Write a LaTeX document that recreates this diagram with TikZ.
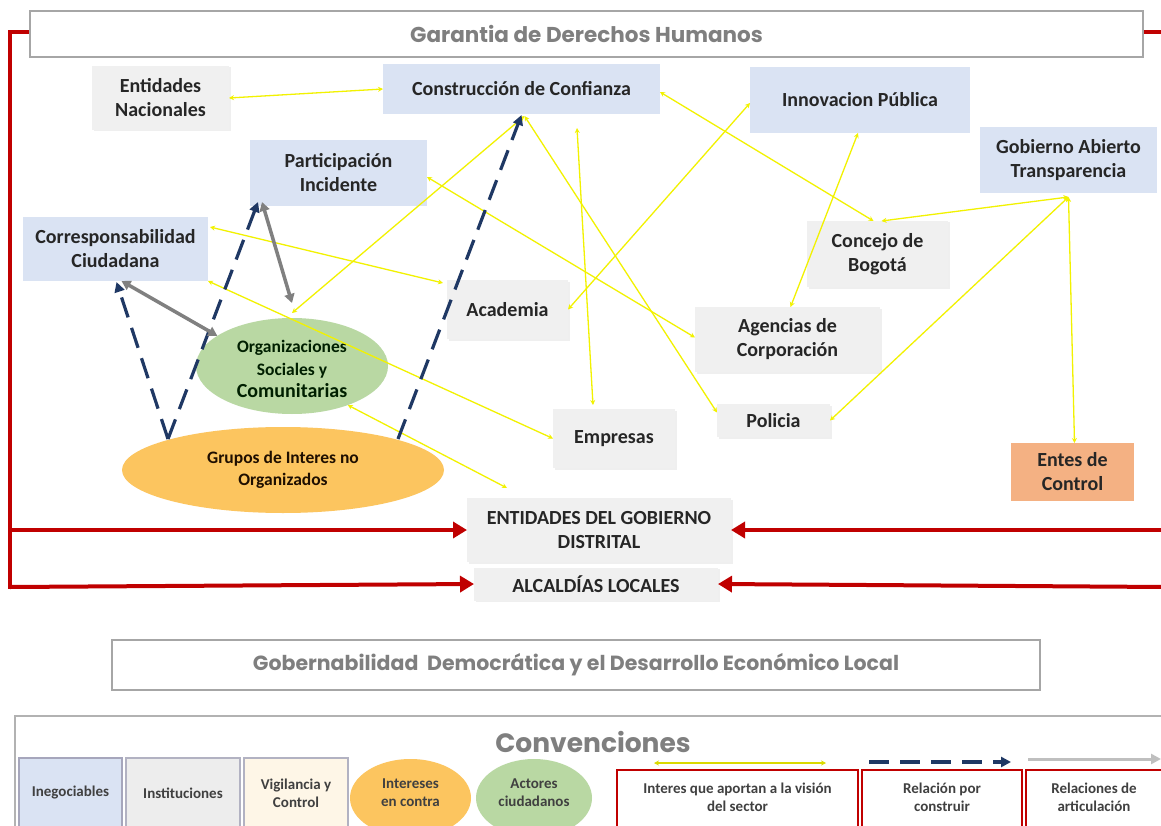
\documentclass[tikz,border=0pt]{standalone}
\usepackage{fontspec}
\setmainfont{Carlito}
\newfontfamily\titlefont{Poppins}
\usetikzlibrary{arrows.meta,shapes.geometric,calc,shadows}
\definecolor{bluebox}{HTML}{DAE3F3}
\definecolor{graybox}{HTML}{F0F0F0}
\definecolor{entesfill}{HTML}{F4B183}
\definecolor{orgfill}{HTML}{B9D8A3}
\definecolor{grpfill}{HTML}{FCC55F}
\definecolor{redline}{HTML}{C00000}
\definecolor{navy}{HTML}{1F3864}
\definecolor{yel}{HTML}{F2F200}
\definecolor{titlegray}{HTML}{7F7F7F}
\definecolor{txt}{HTML}{262626}
\begin{document}
\begin{tikzpicture}[x=1pt,y=-1pt,
  every node/.style={inner sep=0pt, outer sep=0pt},
  boxb/.style={rectangle, fill=bluebox, text=txt, font=\fontsize{20}{24}\selectfont\bfseries, align=center},
  boxg/.style={rectangle, fill=graybox, text=txt, font=\fontsize{20}{24}\selectfont\bfseries, align=center, drop shadow={opacity=0.12, shadow xshift=1.5pt, shadow yshift=-1.5pt}},
  ttlbox/.style={rectangle, draw=black!35, line width=2pt, fill=white, text=titlegray, font=\titlefont\bfseries\fontsize{21.5}{24}\selectfont},
  yline/.style={draw=yel, line width=1.3pt, {Stealth[length=5pt,width=5pt]}-{Stealth[length=5pt,width=5pt]}},
  navyd/.style={draw=navy, line width=3.2pt, dash pattern=on 21pt off 11pt, -{Triangle[length=10pt,width=10pt]}},
  grayarr/.style={draw=black!50, line width=3.5pt, {Triangle[length=9pt,width=10pt]}-{Triangle[length=9pt,width=10pt]}},
  redarr/.style={draw=redline, line width=4pt, -{Triangle[length=14pt,width=16pt]}},
  redln/.style={draw=redline, line width=4pt},
  legtxt/.style={text=black!75, font=\fontsize{15}{18}\selectfont\bfseries, align=center},
  legred/.style={rectangle, draw=redline, line width=1.8pt, fill=white},
  legbox/.style={rectangle, line width=1.2pt}
]
\useasboundingbox (0,0) rectangle (1161,826);
\fill[white] (0,0) rectangle (1161,826);

% red frame
\draw[redln] (30,32) -- (10,32) -- (10,589);
\draw[redln] (1143,32) -- (1165,32);

% title
\node[ttlbox, minimum width=1113pt, minimum height=46pt] (ttl) at (586.5,34) {Garantia de Derechos Humanos};

% nodes
\node[boxg, minimum width=137pt, minimum height=64pt] (entnac) at (160.5,98) {Entidades\\Nacionales};
\node[boxb, minimum width=277pt, minimum height=50pt] (confianza) at (521.5,89) {Construcción de Confianza};
\node[boxb, minimum width=220pt, minimum height=66pt] (innov) at (860,100) {Innovacion Pública};
\node[boxb, minimum width=177pt, minimum height=66pt] (gobab) at (1068.5,160) {Gobierno Abierto\\Transparencia};
\node[boxb, minimum width=177pt, minimum height=66pt] (partic) at (338.5,173) {Participación\\Incidente};
\node[boxb, minimum width=185pt, minimum height=64pt] (corresp) at (115.5,249) {Corresponsabilidad\\Ciudadana};
\node[boxg, minimum width=141pt, minimum height=66pt] (concejo) at (877.5,254) {Concejo de\\Bogotá};
\node[boxg, minimum width=121pt, minimum height=59pt] (academia) at (507.5,309.5) {Academia};
\node[boxg, minimum width=185pt, minimum height=65pt] (agencias) at (787.5,339.5) {Agencias de\\Corporación};
\node[boxg, minimum width=122pt, minimum height=59pt] (empresas) at (614,438.5) {Empresas};
\node[boxg, minimum width=113pt, minimum height=33pt] (policia) at (773.5,420.5) {Policia};
\node[rectangle, fill=entesfill, text=txt, font=\fontsize{20}{24}\selectfont\bfseries, align=center, minimum width=123pt, minimum height=58pt] (entes) at (1072.5,472) {Entes de\\Control};
\node[boxg, minimum width=264pt, minimum height=64pt] (entgob) at (599,530) {ENTIDADES DEL GOBIERNO\\DISTRITAL};
\node[boxg, minimum width=244pt, minimum height=33pt] (alcald) at (596,584) {ALCALDÍAS LOCALES};

\node[ellipse, fill=orgfill, minimum width=192pt, minimum height=96pt] (org) at (292,366) {};
\node[text=black!80!green!60!black, font=\fontsize{17.5}{22.5}\selectfont\bfseries, align=center] (orgtxt) at (292,369) {Organizaciones\\Sociales y\\{\fontsize{20}{22.5}\selectfont Comunitarias}};
\node[ellipse, fill=grpfill, minimum width=322pt, minimum height=86pt, text=black!80!orange!60!black, font=\fontsize{17.5}{21.5}\selectfont\bfseries, align=center] (grupos) at (283,470) {Grupos de Interes no\\Organizados};

\coordinate (g1) at (168,439);
\coordinate (g2) at (398,439);
\coordinate (y4top) at (577,128);

% red arrows
\draw[redarr] (10,530) -- (entgob.west);
\draw[redarr] (10,587) -- (alcald.west);
\draw[redarr] (1165,530) -- (entgob.east);
\draw[redarr] (1165,587) -- (alcald.east);

% yellow connectors
\draw[yline] (entnac.east) -- (confianza.west);
\draw[yline] ([xshift=3pt,yshift=-2pt]confianza.south) -- ([yshift=5pt]org.north);
\draw[yline] ([xshift=3pt,yshift=-2pt]confianza.south) -- ([yshift=8pt]policia.west);
\draw[yline] (y4top) -- ([xshift=-21pt,yshift=4pt]empresas.north);
\draw[yline] ([yshift=-3pt]confianza.east) -- ([xshift=-4pt]concejo.north);
\draw[yline] (academia.east) -- ([yshift=-3pt]innov.west);
\draw[yline] ([yshift=-4pt]partic.east) -- ([yshift=2pt]agencias.west);
\draw[yline] ([xshift=2pt,yshift=22pt]corresp.east) -- ([xshift=-4pt,yshift=-3pt]academia.north west);
\draw[yline] (corresp.south east) -- (empresas.west);
\draw[yline] (org.-35) -- ([xshift=40pt,yshift=10pt]entgob.north west);
\draw[yline] ([xshift=-2pt]innov.south) -- ([xshift=3pt]agencias.north);
\draw[yline] ([yshift=-4pt]gobab.south) -- ([xshift=4pt]concejo.north);
\draw[yline] ([yshift=-4pt]gobab.south) -- (policia.east);
\draw[yline] ([yshift=-4pt]gobab.south) -- ([xshift=2pt]entes.north);

% dashed navy
\draw[navyd] (g1) -- ([xshift=1pt,yshift=-1pt]corresp.south);
\draw[navyd] (g1) -- ([xshift=8pt,yshift=4pt]partic.south west);
\draw[navyd] (g2) -- ([yshift=-1pt]confianza.south);

% gray articulation
\draw[grayarr] ([xshift=12pt,yshift=4pt]partic.south west) -- ([yshift=15pt]org.north);
\draw[grayarr] (org.158) -- ([xshift=6pt,yshift=0pt]corresp.south);

% Gobernabilidad
\node[ttlbox, minimum width=928pt, minimum height=50pt, font=\titlefont\bfseries\fontsize{20.5}{23}\selectfont] (gob) at (576,665) {Gobernabilidad\ \ Democrática y el Desarrollo Económico Local};

% legend frame
\draw[draw=black!30, line width=2pt] (15,830) -- (15,716) -- (1170,716);
\node[text=titlegray, font=\titlefont\bfseries\fontsize{26.5}{30}\selectfont] (conv) at (593,742) {Convenciones};

\node[legbox, fill=bluebox, draw=blue!25!black!35, minimum width=103pt, minimum height=72pt] (l1) at (70.5,794) {};
\node[legtxt] (l1t) at (70.5,793) {Inegociables};
\node[legbox, fill=black!7, draw=blue!20!black!30, minimum width=114pt, minimum height=72pt] (l2) at (183,794) {};
\node[legtxt] (l2t) at (183,793) {Instituciones};
\node[legbox, fill=yellow!18!orange!8!white, draw=blue!20!black!30, minimum width=104pt, minimum height=72pt] (l3) at (296,794) {};
\node[legtxt] (l3t) at (296,793) {Vigilancia y\\Control};
\node[ellipse, fill=grpfill, minimum width=121pt, minimum height=78pt] (l4) at (410.5,798) {};
\node[legtxt] (l4t) at (410.5,793) {Intereses\\en contra};
\node[ellipse, fill=orgfill, minimum width=116pt, minimum height=78pt] (l5) at (534,798) {};
\node[legtxt] (l5t) at (534,793) {Actores\\ciudadanos};

\coordinate (ya) at (654,763);
\coordinate (yb) at (826,763);
\draw[draw=yel!90!black, line width=1.5pt, {Stealth[length=5pt,width=5pt]}-{Stealth[length=5pt,width=5pt]}] (ya) -- (yb);
\node[legred, minimum width=241pt, minimum height=60pt] (r1) at (737.5,800) {};
\node[legtxt] (r1t) at (737.5,797) {Interes que aportan a la visión\\del sector};

\coordinate (na) at (869,762);
\coordinate (nb) at (1011,762);
\draw[draw=navy, line width=3.2pt, dash pattern=on 20pt off 11pt, -{Triangle[length=10pt,width=10pt]}] (na) -- (nb);
\node[legred, minimum width=160pt, minimum height=60pt] (r2) at (942,800) {};
\node[legtxt] (r2t) at (942,797) {Relación por\\construir};

\coordinate (ga) at (1028,759);
\coordinate (gb) at (1161,759);
\draw[draw=black!25, line width=3pt, -{Triangle[length=10pt,width=10pt]}] (ga) -- (gb);
\node[legred, minimum width=140pt, minimum height=60pt] (r3) at (1096,800) {};
\node[legtxt] (r3t) at (1094,797) {Relaciones de\\articulación};
\end{tikzpicture}
\end{document}
